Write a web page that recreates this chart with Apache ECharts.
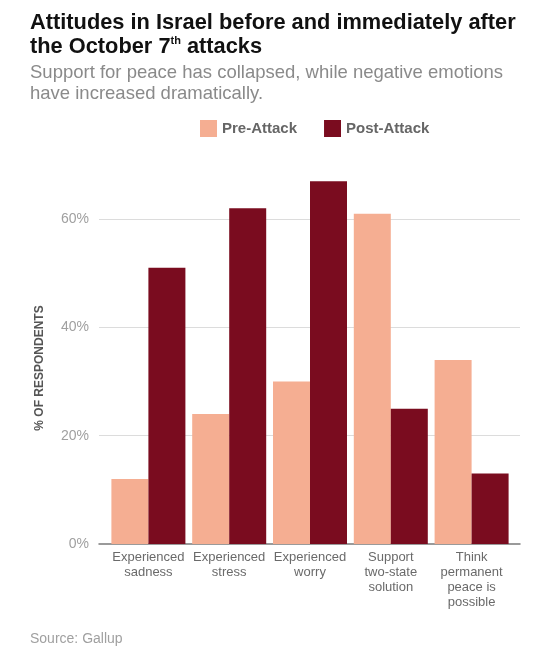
<!DOCTYPE html>
<html>
<head>
<meta charset="utf-8">
<script src="https://cdn.jsdelivr.net/npm/echarts@6/dist/echarts.min.js"></script>
<style>
  html, body { margin: 0; padding: 0; background: #fff; }
  #chart { width: 539px; height: 646px; }
</style>
</head>
<body>
<div id="chart"></div>
<script>
// categories along the x axis
const categories = [
  'Experienced\nsadness',
  'Experienced\nstress',
  'Experienced\nworry',
  'Support\ntwo-state\nsolution',
  'Think\npermanent\npeace is\npossible'
]
// % of respondents
const preAttack = [12, 24, 30, 61, 34]
const postAttack = [51, 62, 67, 25, 13]
const yTicks = [0, 20, 40, 60]

const preColor = '#F5AE92'
const postColor = '#7A0C1F'
const font = 'Liberation Sans, Arial, sans-serif'

const chart = echarts.init(document.getElementById('chart'))

const option = {
  backgroundColor: '#fff',
  textStyle: { fontFamily: font },
  title: [
    {
      text: 'Attitudes in Israel before and immediately after\nthe October 7{sup|th} attacks',
      left: 25,
      top: 6,
      textStyle: {
        fontSize: 21.8,
        fontWeight: 'bold',
        color: '#111',
        lineHeight: 24,
        fontFamily: font,
        rich: {
          sup: { fontSize: 11, fontWeight: 'bold', color: '#111', verticalAlign: 'top', padding: [0, 0, 9, 0] }
        }
      }
    },
    {
      text: 'Support for peace has collapsed, while negative emotions\nhave increased dramatically.',
      left: 25,
      top: 57,
      textStyle: { fontSize: 18.5, fontWeight: 'normal', color: '#8a8a8a', lineHeight: 21, fontFamily: font }
    },
    {
      text: 'Source: Gallup',
      left: 25,
      top: 627,
      textStyle: { fontSize: 14, fontWeight: 'normal', color: '#a0a0a0', fontFamily: font }
    }
  ],
  legend: {
    left: 195,
    top: 115,
    itemWidth: 17,
    itemHeight: 17,
    itemGap: 27,
    icon: 'rect',
    textStyle: { fontSize: 15, fontWeight: 'bold', color: '#666', fontFamily: font },
    data: ['Pre-Attack', 'Post-Attack']
  },
  graphic: [{
    type: 'text',
    x: 40,
    y: 368,
    rotation: Math.PI / 2,
    style: {
      text: '% OF RESPONDENTS',
      font: 'bold 12px ' + font,
      fill: '#555',
      align: 'center',
      verticalAlign: 'middle'
    }
  }],
  grid: [
    // frame grid: gridlines, y labels, baseline
    { left: 99, right: 19, top: 165, bottom: 102 },
    // bar grid
    { left: 108, right: 27, top: 165, bottom: 102 }
  ],
  xAxis: [
    {
      gridIndex: 0,
      type: 'category',
      data: categories,
      axisLine: { show: true, lineStyle: { color: '#7a7a7a', width: 1.5 } },
      axisTick: { show: false },
      axisLabel: { show: false },
      splitLine: { show: false }
    },
    {
      gridIndex: 1,
      type: 'category',
      data: categories,
      axisLine: { show: false },
      axisTick: { show: false },
      axisLabel: {
        interval: 0,
        margin: 6,
        fontSize: 13,
        lineHeight: 15,
        color: '#6a6a6a',
        align: 'center',
        verticalAlign: 'top'
      }
    }
  ],
  yAxis: [
    {
      gridIndex: 0,
      type: 'value',
      min: 0,
      max: 70,
      interval: 20,
      axisLine: { show: false },
      axisTick: { show: false },
      axisLabel: {
        margin: 10,
        fontSize: 14,
        color: '#a0a0a0',
        showMaxLabel: false,
        formatter: v => (yTicks.includes(v) ? v + '%' : '')
      },
      splitLine: { show: true, showMinLine: false, showMaxLine: false, lineStyle: { color: '#dcdcdc', width: 1 } }
    },
    {
      gridIndex: 1,
      type: 'value',
      min: 0,
      max: 70,
      interval: 20,
      show: false,
      splitLine: { show: false }
    }
  ],
  series: [
    {
      name: 'Pre-Attack',
      type: 'bar',
      xAxisIndex: 1,
      yAxisIndex: 1,
      data: preAttack,
      barWidth: 37,
      barGap: '0%',
      itemStyle: { color: preColor },
      z: 3
    },
    {
      name: 'Post-Attack',
      type: 'bar',
      xAxisIndex: 1,
      yAxisIndex: 1,
      data: postAttack,
      barWidth: 37,
      barGap: '0%',
      itemStyle: { color: postColor },
      z: 3
    }
  ]
}

chart.setOption(option)
window.addEventListener('resize', () => chart.resize())
</script>
</body>
</html>
